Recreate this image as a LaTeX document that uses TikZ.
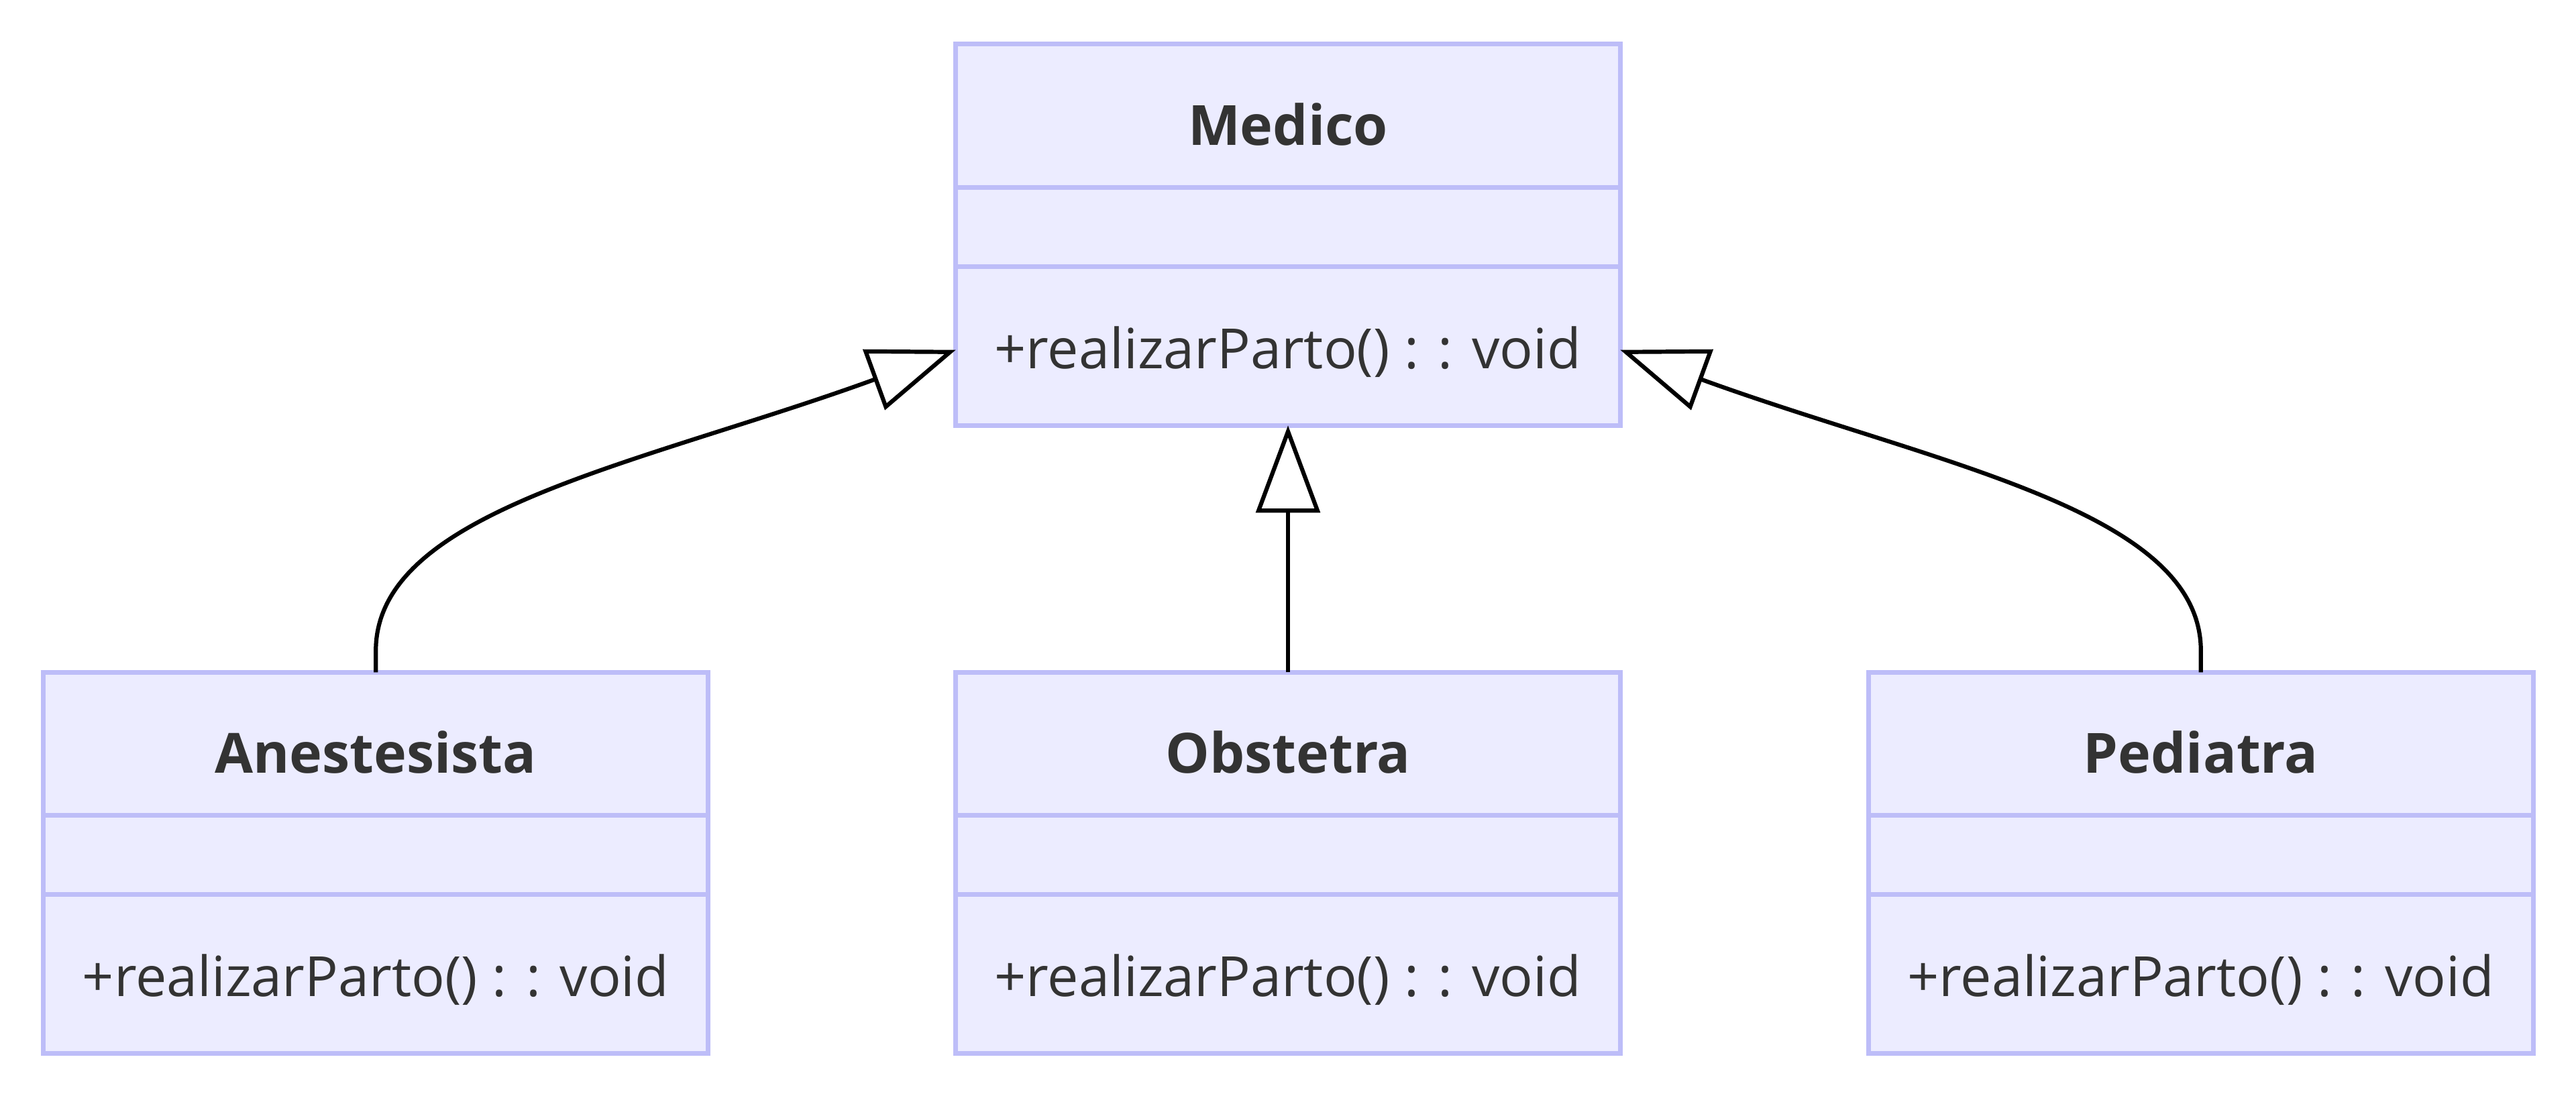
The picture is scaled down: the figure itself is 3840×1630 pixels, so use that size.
\documentclass[tikz,border=0pt]{standalone}
\usepackage{fontspec}
\setmainfont{Open Sans}
\usepackage{tikz}
\usetikzlibrary{positioning}
\usetikzlibrary{arrows.meta}

\definecolor{umlfill}{HTML}{ECECFF}
\definecolor{umlline}{HTML}{BDBDF8}
\definecolor{umltext}{HTML}{333333}

\begin{document}
\begin{tikzpicture}[x=0.01cm, y=0.01cm,
  compart/.style={draw=umlline, line width=0.07cm, fill=umlfill, text=umltext, minimum width=9.9cm, inner sep=0pt, outer sep=0pt, font=\fontsize{23.5}{28}\selectfont},
  classtitle/.style={compart, minimum height=2.13cm, font=\fontsize{23.5}{28}\selectfont\bfseries, text height=25pt, text depth=0pt},
  classattr/.style={compart, minimum height=1.18cm},
  classmethod/.style={compart, minimum height=2.37cm, text height=19pt, text depth=0pt},
  inherit/.style={line width=0.062cm, -{Triangle[open, length=1.3cm, width=0.95cm]}}]
\useasboundingbox (0,0) rectangle (3840,1630);

% superclass
\node[classtitle] (MedT) at (1920,1457.5) {Medico};
\node[classattr, below=0pt of MedT] (MedA) {};
\node[classmethod, below=0pt of MedA] (MedM) {+realizarParto() : : void};

% subclasses
\node[classtitle, below=3.68cm of MedM] (ObsT) {Obstetra};
\node[classattr, below=0pt of ObsT] (ObsA) {};
\node[classmethod, below=0pt of ObsA] (ObsM) {+realizarParto() : : void};

\node[classtitle, left=3.69cm of ObsT] (AneT) {Anestesista};
\node[classattr, below=0pt of AneT] (AneA) {};
\node[classmethod, below=0pt of AneA] (AneM) {+realizarParto() : : void};

\node[classtitle, right=3.7cm of ObsT] (PedT) {Pediatra};
\node[classattr, below=0pt of PedT] (PedA) {};
\node[classmethod, below=0pt of PedA] (PedM) {+realizarParto() : : void};

% inheritance
\draw[inherit] (ObsT.north) -- (MedM.south);
\draw[inherit] (AneT.north) -- ++(0,32) to[out=90, in=200, out distance=2.1cm, in distance=5cm] ([yshift=-0.06cm]MedM.west);
\draw[inherit] (PedT.north) -- ++(0,32) to[out=90, in=-20, out distance=2.1cm, in distance=5cm] ([yshift=-0.06cm]MedM.east);
\end{tikzpicture}
\end{document}
